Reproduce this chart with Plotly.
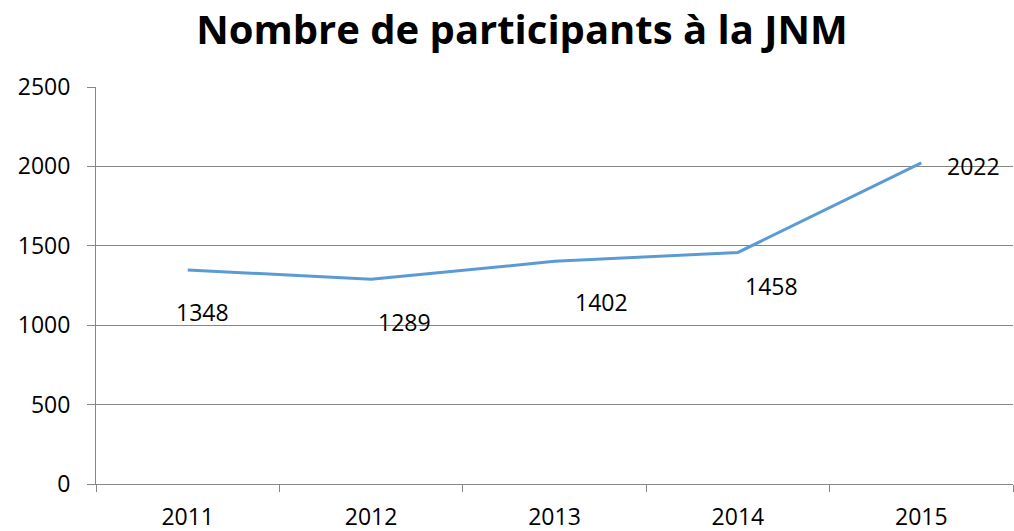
import plotly.graph_objects as go

years = ["2011", "2012", "2013", "2014", "2015"]
participants = [1348, 1289, 1402, 1458, 2022]
y_ticks = [0, 500, 1000, 1500, 2000, 2500]

# label offsets in pixels (style only)
label_dx = [15, 33, 47, 34, 52]
label_dy = [-42, -43, -41, -34, -3]

FONT = "Open Sans"

fig = go.Figure()
fig.add_trace(go.Scatter(
    x=years, y=participants, mode="lines",
    line=dict(color="#5B9BD5", width=3), hoverinfo="x+y",
))

for i, (y, dx, dy) in enumerate(zip(participants, label_dx, label_dy)):
    fig.add_annotation(x=i, y=y, text=str(y), showarrow=False,
                       xshift=dx, yshift=dy,
                       font=dict(family=FONT, size=23, color="#000000"))

fig.update_layout(
    width=1014, height=531,
    margin=dict(l=96, r=1, t=87, b=47, autoexpand=False),
    paper_bgcolor="white", plot_bgcolor="white",
    showlegend=False,
    title=dict(text="<b>Nombre de participants à la JNM</b>",
               x=522 / 1014, xanchor="center", xref="container",
               y=1 - 30 / 531, yanchor="middle", yref="container",
               font=dict(family=FONT, size=40, color="#000000")),
    xaxis=dict(type="category", tickson="boundaries", ticks="outside",
               ticklen=7, tickcolor="#868686", showline=True,
               linecolor="#868686", linewidth=1, showgrid=False,
               range=[-0.5, len(years) - 0.5], automargin=False,
               tickfont=dict(family=FONT, size=23, color="#000000"),
               ticklabelstandoff=12, zeroline=False),
    yaxis=dict(range=[0, 2500], tickvals=y_ticks, ticks="outside",
               ticklen=8, tickcolor="#868686", showline=True,
               linecolor="#868686", linewidth=1, showgrid=True,
               gridcolor="#868686", gridwidth=1, zeroline=False,
               automargin=False,
               tickfont=dict(family=FONT, size=23, color="#000000"),
               ticklabelstandoff=12),
)

fig.write_html("out.html", config={"displayModeBar": False},
               post_script="document.body.style.margin='0';document.body.style.overflow='hidden';")
